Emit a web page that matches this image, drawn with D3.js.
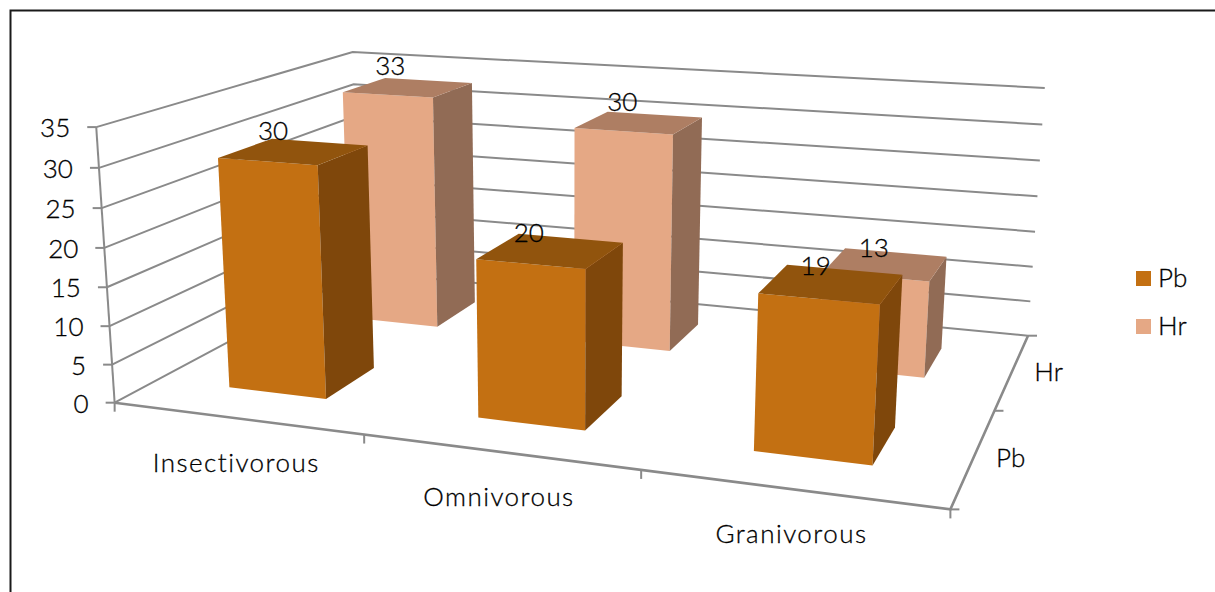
<!DOCTYPE html>
<html><head><meta charset="utf-8"><title>Metal levels by feeding guild</title>
<script src="https://cdnjs.cloudflare.com/ajax/libs/d3/7.8.5/d3.min.js"></script>
<style>
html,body{margin:0;background:#fff;overflow:hidden}
svg{display:block}
text{font-family:"Lato","Open Sans",sans-serif;font-size:26px;font-weight:300;fill:#000;stroke:#000;stroke-width:.3px}
.cat text{letter-spacing:1.45px}
</style></head>
<body><svg id="chart" width="1215" height="592"></svg>
<script>
// Chart data
const categories = ["Insectivorous", "Omnivorous", "Granivorous"];
const seriesNames = ["Pb", "Hr"];
const pbValues = [30, 20, 19];
const hrValues = [33, 30, 13];
const valueTicks = [0, 5, 10, 15, 20, 25, 30, 35];
const valueMax = 35;

// Nudges that place each value label relative to the centre of its bar top
const pbLabelNudge = [[-21, -12], [-22, -9], [-16, -9]];
const hrLabelNudge = [[-18, -13], [-17, -12], [-12, -7]];

const palette = {
  Pb: { front: "#c37012", top: "#91540d", side: "#7f470b" },
  Hr: { front: "#e5a885", top: "#ae7e63", side: "#916b55" }
};
const gridColor = "#8a8a8a";

// Unit-cube scales: category runs left to right, series runs front to back, value runs upward
const catBand = d3.scaleBand().domain(categories).range([0, 1]).paddingInner(0.6).paddingOuter(0.3);
const depthBand = d3.scaleBand().domain(seriesNames).range([0, 1]).paddingInner(0.6).paddingOuter(0.3);
const valueScale = d3.scaleLinear().domain([0, valueMax]).range([0, 1]);

// Perspective camera for the unit cube (homogeneous 3x4 matrix, last entry 1)
const camera = [694.49771, 340.52493, -22.1671, 114.63712,
                31.00412, -58.25655, -280.54693, 402.67864,
                -0.14863, 0.26696, -0.03914];
function project(u, v, t) {
  const w = camera[8] * u + camera[9] * v + camera[10] * t + 1;
  return [(camera[0] * u + camera[1] * v + camera[2] * t + camera[3]) / w,
          (camera[4] * u + camera[5] * v + camera[6] * t + camera[7]) / w];
}

const svg = d3.select("#chart");
const polyline = d3.line();

// Outer frame of the chart area
svg.append("path").attr("d", "M10.5,592V10.5H1215").attr("fill", "none").attr("stroke", "#1a1a1a").attr("stroke-width", 2);

// Gridlines along the left and back walls
const grid = svg.append("g").attr("fill", "none").attr("stroke", gridColor).attr("stroke-width", 2);
grid.selectAll("path.level").data(valueTicks).join("path").attr("class", "level")
  .attr("d", d => polyline([project(0, 0, valueScale(d)), project(0, 1, valueScale(d)), project(1, 1, valueScale(d))]));

// Axis edges and tick marks
const axes = svg.append("g").attr("fill", "none").attr("stroke", gridColor).attr("stroke-width", 2);
axes.append("path").attr("d", polyline([project(0, 0, 0), project(0, 0, 1)]));
axes.append("path").attr("stroke-width", 2.6).attr("d", polyline([project(0, 0, 0), project(1, 0, 0), project(1, 1, 0)]));
axes.selectAll("path.vtick").data(valueTicks).join("path").attr("class", "vtick")
  .attr("d", d => { const p = project(0, 0, valueScale(d)); return polyline([p, [p[0] - 9, p[1]]]); });
axes.selectAll("path.ctick").data([0, 1, 2, 3]).join("path").attr("class", "ctick")
  .attr("d", d => { const p = project(d / 3, 0, 0); return polyline([p, [p[0], p[1] + 9]]); });
axes.selectAll("path.dtick").data([0, 1, 2]).join("path").attr("class", "dtick")
  .attr("d", d => { const p = project(1, d / 2, 0); return polyline([p, [p[0] + 9, p[1]]]); });

// Bars, back row first so the front row overlaps it
const rows = [
  { name: "Hr", values: hrValues, nudge: hrLabelNudge },
  { name: "Pb", values: pbValues, nudge: pbLabelNudge }
];
const labels = [];
rows.forEach(row => {
  const v0 = depthBand(row.name), v1 = v0 + depthBand.bandwidth();
  const g = svg.append("g").attr("class", "series-" + row.name);
  row.values.forEach((value, i) => {
    const u0 = catBand(categories[i]), u1 = u0 + catBand.bandwidth(), t = valueScale(value);
    const face = (fill, pts) => g.append("path").attr("fill", fill).attr("d", polyline(pts) + "Z");
    face(palette[row.name].front, [project(u0, v0, 0), project(u1, v0, 0), project(u1, v0, t), project(u0, v0, t)]);
    face(palette[row.name].side, [project(u1, v0, 0), project(u1, v1, 0), project(u1, v1, t), project(u1, v0, t)]);
    face(palette[row.name].top, [project(u0, v0, t), project(u1, v0, t), project(u1, v1, t), project(u0, v1, t)]);
    const c = project((u0 + u1) / 2, (v0 + v1) / 2, t);
    labels.push({ value, x: c[0] + row.nudge[i][0], y: c[1] + row.nudge[i][1] });
  });
});

// Value labels above each bar
svg.append("g").attr("text-anchor", "middle").selectAll("text").data(labels).join("text")
  .attr("x", d => d.x).attr("y", d => d.y).text(d => d.value);

// Value axis labels
svg.append("g").attr("text-anchor", "end").selectAll("text").data(valueTicks).join("text")
  .attr("x", d => project(0, 0, valueScale(d))[0] - 26)
  .attr("y", d => project(0, 0, valueScale(d))[1] + 10)
  .text(d => d);

// Category labels under the front edge
svg.append("g").attr("class", "cat").attr("text-anchor", "middle").selectAll("text").data(categories).join("text")
  .attr("x", d => project(catBand(d) + catBand.bandwidth() / 2, 0, 0)[0])
  .attr("y", d => project(catBand(d) + catBand.bandwidth() / 2, 0, 0)[1] + 54)
  .text(d => d);

// Series labels beside the right floor edge
svg.append("g").selectAll("text").data(seriesNames).join("text")
  .attr("x", d => project(1, depthBand(d) + depthBand.bandwidth() / 2, 0)[0] + 22)
  .attr("y", d => project(1, depthBand(d) + depthBand.bandwidth() / 2, 0)[1] + 10)
  .text(d => d);

// Legend
const legend = svg.append("g").selectAll("g").data(seriesNames).join("g")
  .attr("transform", (d, i) => `translate(1136,${271 + i * 48})`);
legend.append("rect").attr("width", 15).attr("height", 15).attr("fill", d => palette[d].front);
legend.append("text").attr("x", 22).attr("y", 16).text(d => d);
</script></body></html>
